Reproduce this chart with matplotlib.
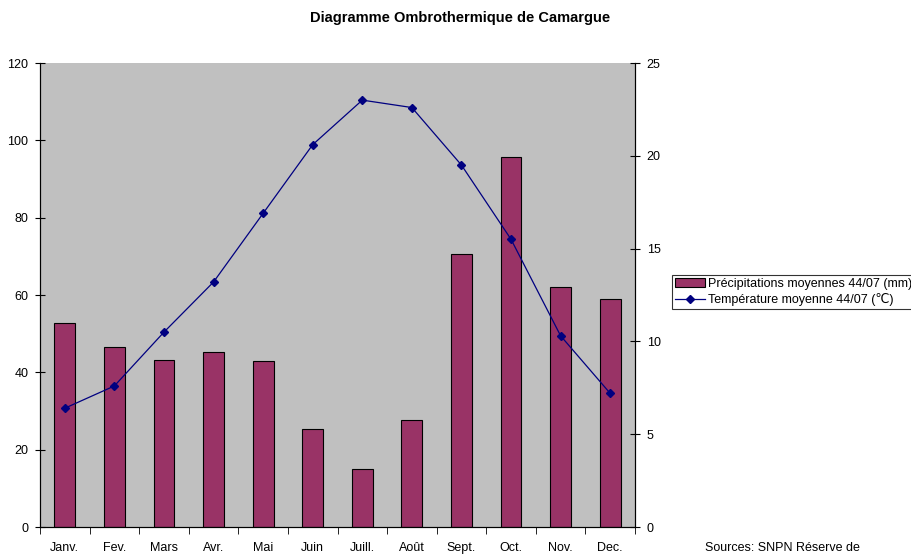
import numpy as np
import matplotlib.pyplot as plt

plt.rcParams['font.family'] = ['Liberation Sans', 'DejaVu Sans']

mois = ["Janv.", "Fev.", "Mars", "Avr.", "Mai", "Juin", "Juill.", "Août",
        "Sept.", "Oct.", "Nov.", "Dec."]
precip = [52.8, 46.6, 43.2, 45.3, 42.9, 25.3, 15.0, 27.7, 70.6, 95.7, 62.1, 59.0]
temp = [6.4, 7.6, 10.5, 13.2, 16.9, 20.6, 23.0, 22.6, 19.5, 15.5, 10.3, 7.2]

fig = plt.figure(figsize=(9.12, 5.58), dpi=100)
ax = fig.add_axes([40 / 912, 31 / 558, 595 / 912, 464 / 558])
ax.set_facecolor("#C0C0C0")

x = np.arange(len(mois))
b = ax.bar(x, precip, width=0.42, color="#993366", edgecolor="black",
           linewidth=0.8, label="Précipitations moyennes 44/07 (mm)", zorder=2)
ax.set_xlim(-0.5, len(mois) - 0.5)
ax.set_ylim(0, 120)
ax.set_yticks(range(0, 121, 20))
ax.set_xticks(x)
ax.set_xticklabels(mois)
ax.tick_params(axis="x", length=0, pad=11, labelsize=9)
ax.set_xticks(np.arange(-0.5, len(mois)), minor=True)
ax.tick_params(axis="x", which="minor", length=5, direction="out")
ax.tick_params(axis="y", direction="inout", length=7, labelsize=9, pad=5)

ax2 = ax.twinx()
l, = ax2.plot(x, temp, color="#000080", marker="D", markersize=4,
              linewidth=0.9, label="Température moyenne 44/07 (℃)")
ax2.set_ylim(0, 25)
ax2.set_yticks(range(0, 26, 5))
ax2.tick_params(axis="y", direction="inout", length=7, labelsize=9, pad=5)

for a in (ax, ax2):
    a.spines["top"].set_visible(False)
    a.spines["left"].set_linewidth(0.8)
    a.spines["right"].set_linewidth(0.8)
    a.spines["bottom"].set_linewidth(0.8)

fig.text(460 / 912, 1 - 18 / 558, "Diagramme Ombrothermique de Camargue",
         ha="center", va="center", fontsize=10.5, fontweight="bold")

leg = fig.legend([b, l], [b.get_label(), l.get_label()], loc="upper left",
                 bbox_to_anchor=(672 / 912, 1 - 275 / 558), fontsize=9,
                 frameon=True, fancybox=False, edgecolor="black",
                 borderpad=0.25, labelspacing=0.25, handlelength=2.4,
                 handletextpad=0.2, borderaxespad=0)
leg.get_frame().set_linewidth(0.8)

fig.text(705 / 912, 1 - 548 / 558, "Sources: SNPN Réserve de",
         ha="left", va="center", fontsize=9)

fig.savefig("out.png", dpi=100)
